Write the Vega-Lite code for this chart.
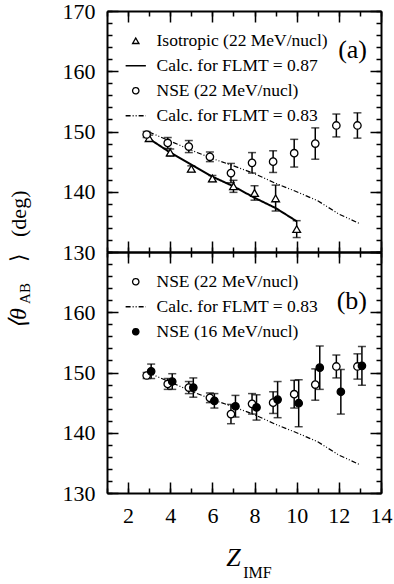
{
  "$schema": "https://vega.github.io/schema/vega-lite/v6.json",
  "background": "white",
  "padding": {"left": 6, "top": 0, "right": 2, "bottom": 0},
  "datasets": {
    "tri": [
      {"z": 3, "theta": 148.9, "lo": 148.4, "hi": 149.4, "series": "Isotropic (22 MeV/nucl)"},
      {"z": 4, "theta": 146.5, "lo": 145.9, "hi": 147.1, "series": "Isotropic (22 MeV/nucl)"},
      {"z": 5, "theta": 143.8, "lo": 143.3, "hi": 144.3, "series": "Isotropic (22 MeV/nucl)"},
      {"z": 6, "theta": 142.2, "lo": 141.7, "hi": 142.7, "series": "Isotropic (22 MeV/nucl)"},
      {"z": 7, "theta": 140.9, "lo": 139.9, "hi": 141.9, "series": "Isotropic (22 MeV/nucl)"},
      {"z": 8, "theta": 139.8, "lo": 138.6, "hi": 141.0, "series": "Isotropic (22 MeV/nucl)"},
      {"z": 9, "theta": 138.9, "lo": 136.8, "hi": 141.1, "series": "Isotropic (22 MeV/nucl)"},
      {"z": 10, "theta": 133.8, "lo": 132.4, "hi": 135.2, "series": "Isotropic (22 MeV/nucl)"}
    ],
    "nse22": [
      {"z": 3, "theta": 149.5, "lo": 149.0, "hi": 150.0, "series": "NSE (22 MeV/nucl)"},
      {"z": 4, "theta": 148.1, "lo": 147.2, "hi": 149.0, "series": "NSE (22 MeV/nucl)"},
      {"z": 5, "theta": 147.5, "lo": 146.5, "hi": 148.5, "series": "NSE (22 MeV/nucl)"},
      {"z": 6, "theta": 145.8, "lo": 145.0, "hi": 146.6, "series": "NSE (22 MeV/nucl)"},
      {"z": 7, "theta": 143.1, "lo": 141.5, "hi": 144.7, "series": "NSE (22 MeV/nucl)"},
      {"z": 8, "theta": 144.8, "lo": 143.1, "hi": 146.5, "series": "NSE (22 MeV/nucl)"},
      {"z": 9, "theta": 145.0, "lo": 143.2, "hi": 146.8, "series": "NSE (22 MeV/nucl)"},
      {"z": 10, "theta": 146.4, "lo": 144.1, "hi": 148.7, "series": "NSE (22 MeV/nucl)"},
      {"z": 11, "theta": 148.0, "lo": 145.4, "hi": 150.6, "series": "NSE (22 MeV/nucl)"},
      {"z": 12, "theta": 151.0, "lo": 149.1, "hi": 152.9, "series": "NSE (22 MeV/nucl)"},
      {"z": 13, "theta": 151.0, "lo": 148.9, "hi": 153.1, "series": "NSE (22 MeV/nucl)"}
    ],
    "nse16": [
      {"z": 3, "theta": 150.2, "lo": 149.0, "hi": 151.4, "series": "NSE (16 MeV/nucl)"},
      {"z": 4, "theta": 148.5, "lo": 147.2, "hi": 149.8, "series": "NSE (16 MeV/nucl)"},
      {"z": 5, "theta": 147.5, "lo": 145.9, "hi": 149.1, "series": "NSE (16 MeV/nucl)"},
      {"z": 6, "theta": 145.3, "lo": 144.1, "hi": 146.5, "series": "NSE (16 MeV/nucl)"},
      {"z": 7, "theta": 144.4, "lo": 142.6, "hi": 146.2, "series": "NSE (16 MeV/nucl)"},
      {"z": 8, "theta": 144.2, "lo": 142.1, "hi": 146.3, "series": "NSE (16 MeV/nucl)"},
      {"z": 9, "theta": 145.5, "lo": 142.5, "hi": 148.5, "series": "NSE (16 MeV/nucl)"},
      {"z": 10, "theta": 144.9, "lo": 141.0, "hi": 148.8, "series": "NSE (16 MeV/nucl)"},
      {"z": 11, "theta": 150.8, "lo": 147.2, "hi": 154.4, "series": "NSE (16 MeV/nucl)"},
      {"z": 12, "theta": 146.8, "lo": 143.1, "hi": 150.5, "series": "NSE (16 MeV/nucl)"},
      {"z": 13, "theta": 151.1, "lo": 147.9, "hi": 154.3, "series": "NSE (16 MeV/nucl)"}
    ],
    "calc87": [
      {"z": 3, "theta": 148.8, "series": "Calc. for FLMT = 0.87"},
      {"z": 4, "theta": 146.5, "series": "Calc. for FLMT = 0.87"},
      {"z": 5, "theta": 144.5, "series": "Calc. for FLMT = 0.87"},
      {"z": 6, "theta": 142.5, "series": "Calc. for FLMT = 0.87"},
      {"z": 7, "theta": 140.9, "series": "Calc. for FLMT = 0.87"},
      {"z": 8, "theta": 139.0, "series": "Calc. for FLMT = 0.87"},
      {"z": 9, "theta": 137.3, "series": "Calc. for FLMT = 0.87"},
      {"z": 10, "theta": 135.1, "series": "Calc. for FLMT = 0.87"}
    ],
    "calc83": [
      {"z": 3, "theta": 149.9, "series": "Calc. for FLMT = 0.83"},
      {"z": 4, "theta": 148.4, "series": "Calc. for FLMT = 0.83"},
      {"z": 5, "theta": 146.9, "series": "Calc. for FLMT = 0.83"},
      {"z": 6, "theta": 145.5, "series": "Calc. for FLMT = 0.83"},
      {"z": 7, "theta": 144.3, "series": "Calc. for FLMT = 0.83"},
      {"z": 8, "theta": 143.0, "series": "Calc. for FLMT = 0.83"},
      {"z": 9, "theta": 141.4, "series": "Calc. for FLMT = 0.83"},
      {"z": 10, "theta": 140.0, "series": "Calc. for FLMT = 0.83"},
      {"z": 11, "theta": 138.5, "series": "Calc. for FLMT = 0.83"},
      {"z": 12, "theta": 136.3, "series": "Calc. for FLMT = 0.83"},
      {"z": 13, "theta": 134.7, "series": "Calc. for FLMT = 0.83"}
    ]
  },
  "spacing": 0,
  "bounds": "flush",
  "resolve": {
    "scale": {"shape": "independent", "fill": "independent", "strokeDash": "independent", "stroke": "independent"},
    "legend": {"shape": "independent", "fill": "independent", "strokeDash": "independent", "stroke": "independent"}
  },
  "vconcat": [
    {
      "width": 274,
      "height": 241,
      "title": {"text": "(a)", "anchor": "end", "orient": "top", "frame": "group", "offset": -51, "dx": -14, "dy": 38, "fontSize": 26, "fontWeight": "normal", "font": "Liberation Serif", "color": "black", "baseline": "bottom"},
      "resolve": {"axis": {"x": "independent", "y": "independent"}},
      "layer": [
        {
          "data": {"name": "tri"},
          "mark": {"type": "errorbar", "color": "black", "thickness": 1.5, "ticks": {"size": 8}},
          "encoding": {
            "x": {"field": "z", "type": "quantitative", "scale": {"domain": [1, 14], "nice": false}, "axis": null},
            "y": {"field": "lo", "type": "quantitative", "scale": {"domain": [130, 170], "nice": false}, "axis": null},
            "y2": {"field": "hi"}
          }
        },
        {
          "data": {"name": "nse22"},
          "mark": {"type": "errorbar", "color": "black", "thickness": 1.5, "ticks": {"size": 8, "xOffset": -2.5}, "rule": {"xOffset": -2.5}},
          "encoding": {
            "x": {"field": "z", "type": "quantitative", "scale": {"domain": [1, 14], "nice": false}, "axis": null},
            "y": {"field": "lo", "type": "quantitative", "scale": {"domain": [130, 170], "nice": false}, "axis": null},
            "y2": {"field": "hi"}
          }
        },
        {
          "data": {"name": "calc87"},
          "mark": {"type": "line", "strokeWidth": 2},
          "encoding": {
            "x": {"field": "z", "type": "quantitative", "scale": {"domain": [1, 14], "nice": false},
                  "axis": {"orient": "bottom", "values": [2, 4, 6, 8, 10, 12, 14], "tickSize": -11, "labels": false, "title": null, "domain": true}},
            "y": {"field": "theta", "type": "quantitative", "scale": {"domain": [130, 170], "nice": false},
                  "axis": {"orient": "left", "values": [130, 140, 150, 160, 170], "tickSize": -11, "labelPadding": 23, "domain": true,
                           "title": "⟩\u00a0\u00a0\u00a0(deg)", "titleX": -89, "titleY": 215, "titleAngle": -90, "titleAlign": "center", "titleBaseline": "middle", "titleFontSize": 22}},
            "stroke": {"field": "series", "type": "nominal",
                       "scale": {"domain": ["Isotropic (22 MeV/nucl)", "Calc. for FLMT = 0.87", "NSE (22 MeV/nucl)", "Calc. for FLMT = 0.83"], "range": ["black", "black", "black", "black"]},
                       "legend": {"title": null, "orient": "none", "legendX": 20, "legendY": 21}},
            "strokeDash": {"field": "series", "type": "nominal",
                           "scale": {"domain": ["Isotropic (22 MeV/nucl)", "Calc. for FLMT = 0.87", "NSE (22 MeV/nucl)", "Calc. for FLMT = 0.83"], "range": [[1, 0], [1, 0], [1, 0], [5, 2, 1, 2, 1, 2]]},
                           "legend": {"title": null, "orient": "none", "legendX": 20, "legendY": 21}}
          }
        },
        {
          "data": {"name": "calc83"},
          "mark": {"type": "line", "strokeWidth": 1.2},
          "encoding": {
            "x": {"field": "z", "type": "quantitative", "scale": {"domain": [1, 14], "nice": false},
                  "axis": {"orient": "bottom", "values": [1, 2, 3, 4, 5, 6, 7, 8, 9, 10, 11, 12, 13, 14], "tickSize": -5, "labels": false, "title": null, "domain": false}},
            "y": {"field": "theta", "type": "quantitative", "scale": {"domain": [130, 170], "nice": false},
                  "axis": {"orient": "left", "values": [130, 132, 134, 136, 138, 140, 142, 144, 146, 148, 150, 152, 154, 156, 158, 160, 162, 164, 166, 168, 170], "tickSize": -5, "labels": false, "title": null, "domain": false}},
            "stroke": {"field": "series", "type": "nominal",
                       "scale": {"domain": ["Isotropic (22 MeV/nucl)", "Calc. for FLMT = 0.87", "NSE (22 MeV/nucl)", "Calc. for FLMT = 0.83"], "range": ["black", "black", "black", "black"]},
                       "legend": {"title": null, "orient": "none", "legendX": 20, "legendY": 21}},
            "strokeDash": {"field": "series", "type": "nominal",
                           "scale": {"domain": ["Isotropic (22 MeV/nucl)", "Calc. for FLMT = 0.87", "NSE (22 MeV/nucl)", "Calc. for FLMT = 0.83"], "range": [[1, 0], [1, 0], [1, 0], [5, 2, 1, 2, 1, 2]]},
                           "legend": {"title": null, "orient": "none", "legendX": 20, "legendY": 21}}
          }
        },
        {
          "data": {"name": "tri"},
          "mark": {"type": "point", "strokeWidth": 1.3, "size": 60, "opacity": 1},
          "encoding": {
            "x": {"field": "z", "type": "quantitative", "scale": {"domain": [1, 14], "nice": false},
                  "axis": {"orient": "top", "values": [2, 4, 6, 8, 10, 12, 14], "tickSize": -11, "labels": false, "title": null, "domain": true}},
            "y": {"field": "theta", "type": "quantitative", "scale": {"domain": [130, 170], "nice": false},
                  "axis": {"orient": "right", "values": [130, 140, 150, 160, 170], "tickSize": -11, "labels": false, "title": null, "domain": true}},
            "shape": {"field": "series", "type": "nominal",
                      "scale": {"domain": ["Isotropic (22 MeV/nucl)", "Calc. for FLMT = 0.87", "NSE (22 MeV/nucl)", "Calc. for FLMT = 0.83"], "range": ["triangle-up", "M-3.2,0H3.2", "circle", "M-3.2,0H3.2"]},
                      "legend": {"title": null, "orient": "none", "legendX": 20, "legendY": 21}},
            "fill": {"field": "series", "type": "nominal",
                     "scale": {"domain": ["Isotropic (22 MeV/nucl)", "Calc. for FLMT = 0.87", "NSE (22 MeV/nucl)", "Calc. for FLMT = 0.83"], "range": ["white", "transparent", "white", "transparent"]},
                     "legend": {"title": null, "orient": "none", "legendX": 20, "legendY": 21}},
            "stroke": {"field": "series", "type": "nominal",
                       "scale": {"domain": ["Isotropic (22 MeV/nucl)", "Calc. for FLMT = 0.87", "NSE (22 MeV/nucl)", "Calc. for FLMT = 0.83"], "range": ["black", "black", "black", "black"]},
                       "legend": {"title": null, "orient": "none", "legendX": 20, "legendY": 21}}
          }
        },
        {
          "data": {"name": "nse22"},
          "mark": {"type": "point", "strokeWidth": 1.3, "size": 55, "opacity": 1, "xOffset": -2.5},
          "encoding": {
            "x": {"field": "z", "type": "quantitative", "scale": {"domain": [1, 14], "nice": false},
                  "axis": {"orient": "top", "values": [1, 2, 3, 4, 5, 6, 7, 8, 9, 10, 11, 12, 13, 14], "tickSize": -5, "labels": false, "title": null, "domain": false}},
            "y": {"field": "theta", "type": "quantitative", "scale": {"domain": [130, 170], "nice": false},
                  "axis": {"orient": "right", "values": [130, 132, 134, 136, 138, 140, 142, 144, 146, 148, 150, 152, 154, 156, 158, 160, 162, 164, 166, 168, 170], "tickSize": -5, "labels": false, "title": null, "domain": false}},
            "shape": {"field": "series", "type": "nominal",
                      "scale": {"domain": ["Isotropic (22 MeV/nucl)", "Calc. for FLMT = 0.87", "NSE (22 MeV/nucl)", "Calc. for FLMT = 0.83"], "range": ["triangle-up", "M-3.2,0H3.2", "circle", "M-3.2,0H3.2"]},
                      "legend": {"title": null, "orient": "none", "legendX": 20, "legendY": 21}},
            "fill": {"field": "series", "type": "nominal",
                     "scale": {"domain": ["Isotropic (22 MeV/nucl)", "Calc. for FLMT = 0.87", "NSE (22 MeV/nucl)", "Calc. for FLMT = 0.83"], "range": ["white", "transparent", "white", "transparent"]},
                     "legend": {"title": null, "orient": "none", "legendX": 20, "legendY": 21}},
            "stroke": {"field": "series", "type": "nominal",
                       "scale": {"domain": ["Isotropic (22 MeV/nucl)", "Calc. for FLMT = 0.87", "NSE (22 MeV/nucl)", "Calc. for FLMT = 0.83"], "range": ["black", "black", "black", "black"]},
                       "legend": {"title": null, "orient": "none", "legendX": 20, "legendY": 21}}
          }
        }
      ]
    },
    {
      "width": 274,
      "height": 241,
      "title": {"text": "(b)", "anchor": "end", "orient": "top", "frame": "group", "offset": -51, "dx": -14, "dy": 38, "fontSize": 26, "fontWeight": "normal", "font": "Liberation Serif", "color": "black", "baseline": "bottom"},
      "resolve": {"axis": {"x": "independent", "y": "independent"}},
      "layer": [
        {
          "data": {"name": "nse22"},
          "mark": {"type": "errorbar", "color": "black", "thickness": 1.5, "ticks": {"size": 8, "xOffset": -2.5}, "rule": {"xOffset": -2.5}},
          "encoding": {
            "x": {"field": "z", "type": "quantitative", "scale": {"domain": [1, 14], "nice": false}, "axis": null},
            "y": {"field": "lo", "type": "quantitative", "scale": {"domain": [130, 170], "nice": false}, "axis": null},
            "y2": {"field": "hi"}
          }
        },
        {
          "data": {"name": "nse16"},
          "mark": {"type": "errorbar", "color": "black", "thickness": 1.5, "ticks": {"size": 8, "xOffset": 2}, "rule": {"xOffset": 2}},
          "encoding": {
            "x": {"field": "z", "type": "quantitative", "scale": {"domain": [1, 14], "nice": false}, "axis": null},
            "y": {"field": "lo", "type": "quantitative", "scale": {"domain": [130, 170], "nice": false}, "axis": null},
            "y2": {"field": "hi"}
          }
        },
        {
          "data": {"name": "calc83"},
          "mark": {"type": "line", "strokeWidth": 1.2},
          "encoding": {
            "x": {"field": "z", "type": "quantitative", "scale": {"domain": [1, 14], "nice": false},
                  "axis": {"orient": "bottom", "values": [2, 4, 6, 8, 10, 12, 14], "tickSize": -11, "labelPadding": 23, "domain": true,
                           "title": "Z", "titleX": 126, "titleY": 64, "titleFontSize": 26, "titleFontStyle": "italic", "titleAlign": "center", "titleBaseline": "middle", "titleAngle": 0}},
            "y": {"field": "theta", "type": "quantitative", "scale": {"domain": [130, 170], "nice": false},
                  "axis": {"orient": "left", "values": [130, 140, 150, 160], "tickSize": -11, "labelPadding": 23, "domain": true,
                           "title": "⟨θ", "titleX": -89, "titleY": 66, "titleAngle": -90, "titleAlign": "center", "titleBaseline": "middle", "titleFontSize": 24, "titleFontStyle": "italic"}},
            "stroke": {"field": "series", "type": "nominal",
                       "scale": {"domain": ["NSE (22 MeV/nucl)", "Calc. for FLMT = 0.83", "NSE (16 MeV/nucl)"], "range": ["black", "black", "black"]},
                       "legend": {"title": null, "orient": "none", "legendX": 20, "legendY": 21}},
            "strokeDash": {"field": "series", "type": "nominal",
                           "scale": {"domain": ["NSE (22 MeV/nucl)", "Calc. for FLMT = 0.83", "NSE (16 MeV/nucl)"], "range": [[1, 0], [5, 2, 1, 2, 1, 2], [1, 0]]},
                           "legend": {"title": null, "orient": "none", "legendX": 20, "legendY": 21}}
          }
        },
        {
          "data": {"name": "nse22"},
          "mark": {"type": "point", "strokeWidth": 1.3, "size": 55, "opacity": 1, "xOffset": -2.5},
          "encoding": {
            "x": {"field": "z", "type": "quantitative", "scale": {"domain": [1, 14], "nice": false},
                  "axis": {"orient": "bottom", "values": [1, 2, 3, 4, 5, 6, 7, 8, 9, 10, 11, 12, 13, 14], "tickSize": -5, "labels": false, "domain": false,
                           "title": "IMF", "titleX": 150, "titleY": 79, "titleFontSize": 16, "titleAlign": "center", "titleBaseline": "middle", "titleAngle": 0}},
            "y": {"field": "theta", "type": "quantitative", "scale": {"domain": [130, 170], "nice": false},
                  "axis": {"orient": "left", "values": [130, 132, 134, 136, 138, 140, 142, 144, 146, 148, 150, 152, 154, 156, 158, 160, 162, 164, 166, 168, 170], "tickSize": -5, "labels": false, "domain": false,
                           "title": "AB", "titleX": -83, "titleY": 41, "titleAngle": -90, "titleAlign": "center", "titleBaseline": "middle", "titleFontSize": 15}},
            "shape": {"field": "series", "type": "nominal",
                      "scale": {"domain": ["NSE (22 MeV/nucl)", "Calc. for FLMT = 0.83", "NSE (16 MeV/nucl)"], "range": ["circle", "M-3.2,0H3.2", "circle"]},
                      "legend": {"title": null, "orient": "none", "legendX": 20, "legendY": 21}},
            "fill": {"field": "series", "type": "nominal",
                     "scale": {"domain": ["NSE (22 MeV/nucl)", "Calc. for FLMT = 0.83", "NSE (16 MeV/nucl)"], "range": ["white", "transparent", "black"]},
                     "legend": {"title": null, "orient": "none", "legendX": 20, "legendY": 21}},
            "stroke": {"field": "series", "type": "nominal",
                       "scale": {"domain": ["NSE (22 MeV/nucl)", "Calc. for FLMT = 0.83", "NSE (16 MeV/nucl)"], "range": ["black", "black", "black"]},
                       "legend": {"title": null, "orient": "none", "legendX": 20, "legendY": 21}}
          }
        },
        {
          "data": {"name": "nse16"},
          "mark": {"type": "point", "strokeWidth": 1.3, "size": 55, "opacity": 1, "xOffset": 2},
          "encoding": {
            "x": {"field": "z", "type": "quantitative", "scale": {"domain": [1, 14], "nice": false},
                  "axis": {"orient": "top", "values": [2, 4, 6, 8, 10, 12, 14], "tickSize": -11, "labels": false, "title": null, "domain": true}},
            "y": {"field": "theta", "type": "quantitative", "scale": {"domain": [130, 170], "nice": false},
                  "axis": {"orient": "right", "values": [130, 140, 150, 160, 170], "tickSize": -11, "labels": false, "title": null, "domain": true}},
            "shape": {"field": "series", "type": "nominal",
                      "scale": {"domain": ["NSE (22 MeV/nucl)", "Calc. for FLMT = 0.83", "NSE (16 MeV/nucl)"], "range": ["circle", "M-3.2,0H3.2", "circle"]},
                      "legend": {"title": null, "orient": "none", "legendX": 20, "legendY": 21}},
            "fill": {"field": "series", "type": "nominal",
                     "scale": {"domain": ["NSE (22 MeV/nucl)", "Calc. for FLMT = 0.83", "NSE (16 MeV/nucl)"], "range": ["white", "transparent", "black"]},
                     "legend": {"title": null, "orient": "none", "legendX": 20, "legendY": 21}},
            "stroke": {"field": "series", "type": "nominal",
                       "scale": {"domain": ["NSE (22 MeV/nucl)", "Calc. for FLMT = 0.83", "NSE (16 MeV/nucl)"], "range": ["black", "black", "black"]},
                       "legend": {"title": null, "orient": "none", "legendX": 20, "legendY": 21}}
          }
        },
        {
          "data": {"name": "nse16"},
          "mark": {"type": "point", "opacity": 0},
          "encoding": {
            "x": {"field": "z", "type": "quantitative", "scale": {"domain": [1, 14], "nice": false},
                  "axis": {"orient": "top", "values": [1, 2, 3, 4, 5, 6, 7, 8, 9, 10, 11, 12, 13, 14], "tickSize": -5, "labels": false, "title": null, "domain": false}},
            "y": {"field": "theta", "type": "quantitative", "scale": {"domain": [130, 170], "nice": false},
                  "axis": {"orient": "right", "values": [130, 132, 134, 136, 138, 140, 142, 144, 146, 148, 150, 152, 154, 156, 158, 160, 162, 164, 166, 168, 170], "tickSize": -5, "labels": false, "title": null, "domain": false}}
          }
        }
      ]
    }
  ],
  "config": {
    "font": "Liberation Serif",
    "view": {"stroke": null},
    "mark": {"color": "black"},
    "axis": {
      "grid": false, "domainColor": "black", "domainWidth": 2, "tickColor": "black", "tickWidth": 1.5,
      "labelFont": "Liberation Serif", "labelFontSize": 22, "labelColor": "black", "labelFlush": false, "labelOverlap": false,
      "titleFont": "Liberation Serif", "titleColor": "black", "titleFontWeight": "normal"
    },
    "legend": {
      "labelFont": "Liberation Serif", "labelFontSize": 17.5, "labelColor": "black", "labelOffset": 12, "labelLimit": 300,
      "rowPadding": 6, "symbolStrokeColor": "black", "symbolStrokeWidth": 1.3, "symbolSize": 40, "padding": 0
    }
  }
}
